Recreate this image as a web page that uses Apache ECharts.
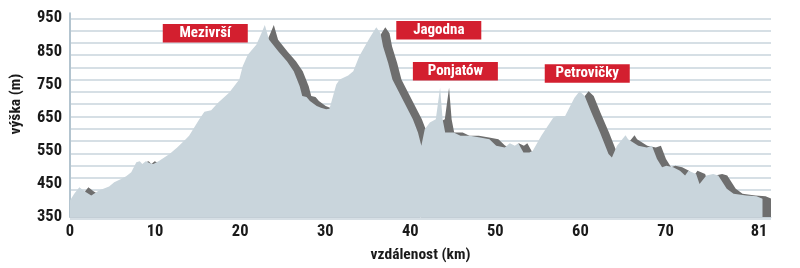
<!DOCTYPE html>
<html><head><meta charset="utf-8">
<script src="https://cdn.jsdelivr.net/npm/echarts@6/dist/echarts.min.js"></script>
<style>html,body{margin:0;padding:0;background:#fff}#c{width:800px;height:268px}</style>
</head><body><div id="c"></div><script>
const distanceKm = [0, 0.5, 1.1, 1.7, 2.5, 3.4, 4.6, 5.2, 6.0, 6.6, 7.2, 7.8, 8.2, 8.5, 8.9, 9.4, 9.8, 10.5, 11.7, 12.6, 13.6, 14.0, 14.6, 15.2, 15.8, 16.6, 17.4, 18.7, 19.9, 20.3, 20.9, 21.9, 22.5, 22.9, 23.4, 24.5, 25.5, 26.3, 27.0, 27.3, 27.8, 28.2, 29.0, 29.5, 30.1, 30.5, 30.7, 31.3, 31.7, 32.7, 33.3, 34.0, 35.2, 36.0, 36.5, 36.8, 37.4, 37.9, 38.7, 39.5, 40.3, 40.9, 41.3, 41.7, 42.3, 43.0, 43.5, 43.8, 44.1, 45.1, 45.9, 47.0, 48.2, 49.3, 50.1, 51.1, 51.7, 52.3, 52.7, 53.3, 54.0, 54.4, 55.4, 56.8, 57.2, 58.2, 58.5, 59.3, 59.9, 60.5, 61.3, 62.3, 63.3, 63.7, 64.3, 65.3, 65.6, 66.2, 66.8, 67.8, 68.4, 69.0, 69.6, 70.1, 70.9, 71.7, 72.3, 72.7, 73.6, 74.0, 74.8, 75.6, 76.2, 77.2, 78.0, 79.5, 80.7, 81.4];
const elevationM = [400, 420, 440, 428, 415, 430, 442, 455, 465, 473, 485, 515, 518, 510, 518, 512, 510, 520, 540, 560, 585, 595, 620, 645, 668, 672, 695, 725, 765, 805, 840, 870, 905, 930, 885, 850, 820, 790, 745, 715, 712, 700, 685, 680, 675, 677, 695, 750, 765, 777, 790, 835, 890, 923, 905, 865, 815, 765, 725, 685, 645, 605, 565, 615, 635, 645, 740, 645, 605, 605, 595, 595, 590, 585, 565, 560, 573, 565, 573, 545, 545, 550, 595, 650, 655, 655, 670, 710, 730, 715, 665, 605, 540, 530, 565, 597, 585, 575, 565, 560, 565, 525, 500, 505, 500, 490, 475, 490, 480, 450, 475, 480, 475, 435, 420, 415, 413, 405];
const xTickValues = [0, 10, 20, 30, 40, 50, 60, 70, 81];
const yTickValues = [350, 450, 550, 650, 750, 850, 950];
const peakNames = ['Mezivrší', 'Jagodna', 'Ponjatów', 'Petrovičky'];
const peakLabelKm = [15.9, 43.35, 45.3, 60.8];
const peakLabelElev = [905, 914, 790, 783];

const FONT = '"Roboto Condensed", "Open Sans Condensed", "Roboto", sans-serif';
const chart = echarts.init(document.getElementById('c'), null, {renderer: 'canvas'});
const profile = distanceKm.map((d, i) => [d, elevationM[i]]);
const labels = peakNames.map((n, i) => ({name: n, value: [peakLabelKm[i], peakLabelElev[i]]}));

chart.setOption({
  animation: false,
  backgroundColor: '#ffffff',
  grid: [
    {left: 70, right: 29, top: 13.3, bottom: 49.7},
    {left: 70, right: 29, top: 18.3, bottom: 49.7}
  ],
  xAxis: [
    {
      gridIndex: 0, type: 'value', min: 0, max: 82.4,
      axisLine: {show: true, lineStyle: {color: '#c3ced6', width: 1}},
      axisTick: {show: false}, splitLine: {show: false},
      axisLabel: {customValues: xTickValues, color: '#1a1a1a', fontFamily: FONT, fontWeight: 'bold', fontSize: 16.5, margin: 6},
      name: 'vzdálenost (km)', nameLocation: 'middle', nameGap: 30,
      nameTextStyle: {color: '#1a1a1a', fontFamily: FONT, fontWeight: 'bold', fontSize: 15.5}
    },
    {gridIndex: 1, type: 'value', min: 0, max: 82.4, show: false}
  ],
  yAxis: [
    {
      gridIndex: 0, type: 'value', min: 350, max: 965,
      axisLine: {show: true, lineStyle: {color: '#b3c4cf', width: 2}},
      axisTick: {show: false}, splitLine: {show: false},
      axisLabel: {customValues: yTickValues, color: '#1a1a1a', fontFamily: FONT, fontWeight: 'bold', fontSize: 16.5, margin: 8, padding: [6, 0, 0, 0]},
      name: 'výška (m)', nameLocation: 'middle', nameGap: 46, nameRotate: 90,
      nameTextStyle: {color: '#1a1a1a', fontFamily: FONT, fontWeight: 'bold', fontSize: 15.5, padding: [0, 0, 0, 22]}
    },
    {
      gridIndex: 1, type: 'value', inverse: true, min: 0, max: 16.29, interval: 1,
      axisLine: {show: false}, axisTick: {show: false}, axisLabel: {show: false},
      splitLine: {show: true, lineStyle: {color: '#c8d5dd', width: 1.5}}
    }
  ],
  series: [
    {
      type: 'line', xAxisIndex: 0, yAxisIndex: 0, data: profile,
      symbol: 'none', smooth: false, clip: false, z: 3,
      lineStyle: {opacity: 0, width: 0},
      areaStyle: {origin: 'start', color: '#c9d5dc', opacity: 1, shadowColor: '#6e6e6e', shadowOffsetX: 9, shadowOffsetY: 0, shadowBlur: 0}
    },
    {
      type: 'scatter', xAxisIndex: 0, yAxisIndex: 0, data: labels, silent: true, z: 5,
      symbol: 'rect', symbolSize: [85, 18.5],
      itemStyle: {color: '#d31f2f', opacity: 1},
      label: {show: true, position: 'inside', formatter: '{b}', color: '#ffffff', fontFamily: FONT, fontWeight: 'bold', fontSize: 15}
    }
  ]
});
</script></body></html>
